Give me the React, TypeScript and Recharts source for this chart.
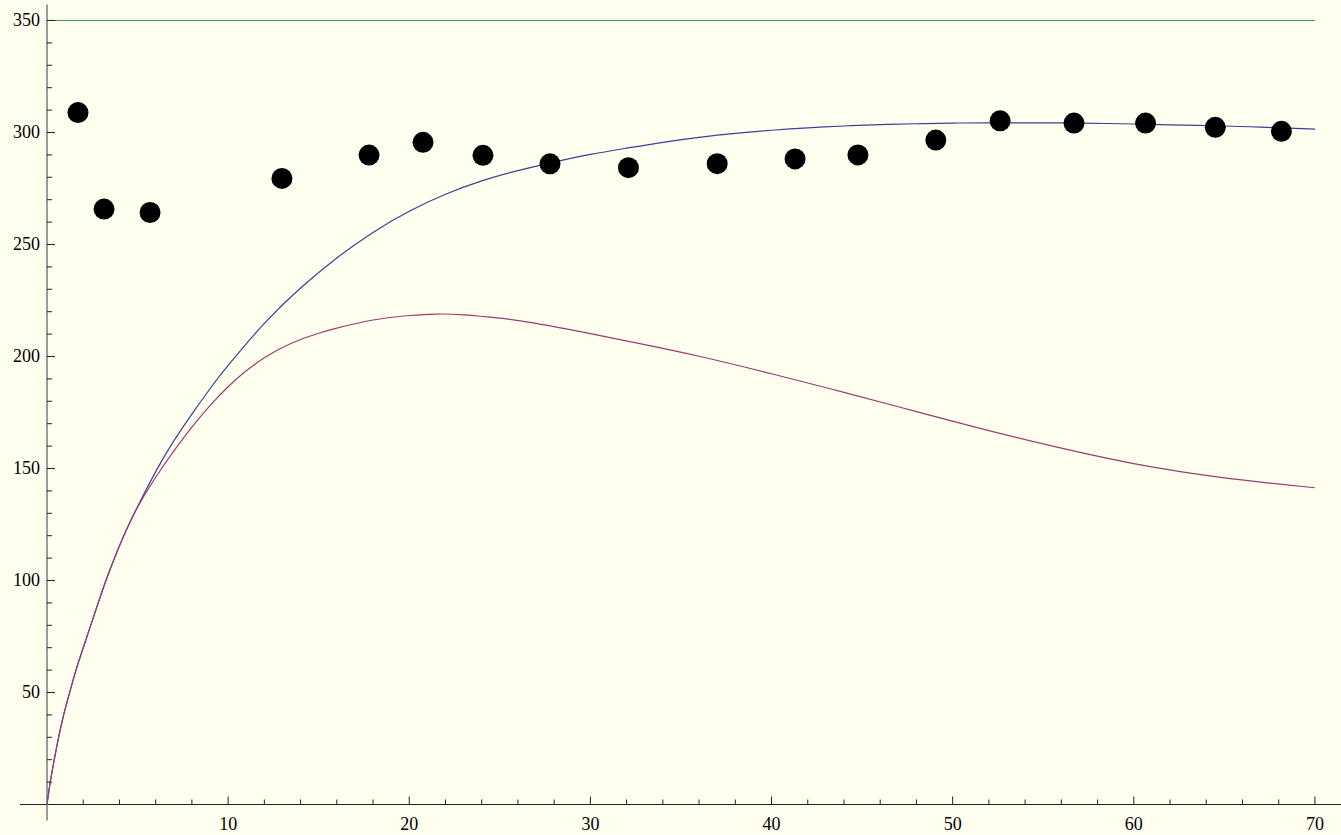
import { ComposedChart, Line, Scatter, XAxis, YAxis, ReferenceLine } from 'recharts';

// measured points (dots)
const obsTime = [1.71, 3.15, 5.69, 12.97, 17.78, 20.76, 24.07, 27.77, 32.1, 37.0, 41.3, 44.77, 49.07, 52.62, 56.7, 60.65, 64.5, 68.15];
const obsLevel = [308.9, 265.8, 264.3, 279.5, 289.9, 295.6, 289.8, 286.0, 284.3, 286.1, 288.2, 290.0, 296.6, 305.2, 304.2, 304.2, 302.3, 300.5];

// upper (blue) curve
const blueTime = [0, 0.18, 0.4, 0.64, 0.92, 1.25, 1.6, 2.0, 2.6, 3.22, 3.95, 4.82, 6, 7, 8, 9, 10, 12, 14, 16, 18, 20, 22, 24, 26, 28, 30, 32, 34, 36, 38, 40, 42, 44, 46, 48, 50, 52, 55, 57, 60, 62, 65, 67, 70];
const blueLevel = [0, 10, 20, 30, 40, 50, 60, 70, 84.5, 99.2, 114.5, 130, 148.6, 162.3, 174.3, 185.6, 196.0, 214.8, 230.6, 244.0, 255.4, 264.8, 272.4, 278.4, 283.0, 286.8, 290.2, 293.0, 295.6, 297.8, 299.6, 301.0, 302.1, 302.9, 303.5, 303.9, 304.2, 304.3, 304.3, 304.2, 303.8, 303.4, 302.9, 302.4, 301.5];

// lower (purple) curve
const purpleTime = [0, 0.18, 0.4, 0.64, 0.92, 1.25, 1.6, 2.0, 2.6, 3.22, 3.95, 4.82, 6, 7, 8, 9, 10, 11, 12, 13, 14, 15, 16, 18, 20, 21.5, 23, 25, 27, 30, 33, 36, 40, 44, 48, 52, 56, 60, 64, 67, 70];
const purpleLevel = [0, 10, 20, 30, 40, 50, 60, 70, 84.5, 99.2, 114.5, 130, 146.1, 157.8, 168.5, 178.1, 186.5, 193.6, 199.4, 204.0, 207.6, 210.4, 212.7, 216.3, 218.3, 218.95, 218.6, 217.1, 214.8, 210.2, 205.3, 200.1, 192.3, 184.0, 175.4, 166.9, 159.1, 152.2, 146.9, 143.9, 141.4];

// horizontal green level
const limitLevel = 350;
const limitSpan = [0, 70];

const xMinorTicks = [2, 4, 6, 8, 12, 14, 16, 18, 22, 24, 26, 28, 32, 34, 36, 38, 42, 44, 46, 48, 52, 54, 56, 58, 62, 64, 66, 68];
const xMajorTicks = [10, 20, 30, 40, 50, 60, 70];
const yMinorTicks = [10, 20, 30, 40, 60, 70, 80, 90, 110, 120, 130, 140, 160, 170, 180, 190, 210, 220, 230, 240, 260, 270, 280, 290, 310, 320, 330, 340];
const yMajorTicks = [50, 100, 150, 200, 250, 300, 350];

const obsData = obsTime.map((x, i) => ({ x, y: obsLevel[i] }));
const blueData = blueTime.map((x, i) => ({ x, y: blueLevel[i] }));
const purpleData = purpleTime.map((x, i) => ({ x, y: purpleLevel[i] }));
const limitData = limitSpan.map((x) => ({ x, y: limitLevel }));

const xTicks = [...xMinorTicks, ...xMajorTicks].sort((a, b) => a - b);
const yTicks = [...yMinorTicks, ...yMajorTicks].sort((a, b) => a - b);

const FONT = '"Liberation Serif", "Times New Roman", serif';
const BG = '#FFFFF0';
const AXIS = '#222';

function XTick({ x, y, payload }: any) {
  const major = xMajorTicks.includes(payload.value);
  return (
    <g>
      <line x1={x} y1={y} x2={x} y2={y - (major ? 8 : 5)} stroke={AXIS} strokeWidth={1} />
      {major && (
        <text x={x} y={y + 25} textAnchor="middle" fontFamily={FONT} fontSize={18} fill="#000">
          {payload.value}
        </text>
      )}
    </g>
  );
}

function YTick({ x, y, payload }: any) {
  const major = yMajorTicks.includes(payload.value);
  return (
    <g>
      <line x1={x} y1={y} x2={x + (major ? 8 : 5)} y2={y} stroke={AXIS} strokeWidth={1} />
      {major && (
        <text x={x - 7} y={y + 6} textAnchor="end" fontFamily={FONT} fontSize={18} fill="#000">
          {payload.value}
        </text>
      )}
    </g>
  );
}

export default function App() {
  return (
    <div style={{ position: 'absolute', left: 0, top: 0, width: 1341, height: 835, background: BG }}>
      <ComposedChart width={1341} height={835} margin={{ top: 4.5, right: 0, bottom: 0, left: 0 }}>
        <XAxis
          type="number"
          dataKey="x"
          domain={[0, 71.44]}
          allowDataOverflow
          ticks={xTicks}
          interval={0}
          height={30.5}
          axisLine={false}
          tickLine={false}
          tickSize={0}
          tickMargin={0}
          tick={<XTick />}
        />
        <YAxis
          type="number"
          dataKey="y"
          domain={[0, 357.14]}
          allowDataOverflow
          ticks={yTicks}
          interval={0}
          width={47}
          axisLine={false}
          tickLine={false}
          tickSize={0}
          tickMargin={0}
          tick={<YTick />}
        />
        <ReferenceLine segment={[{ x: -1.49, y: 0 }, { x: 71.44, y: 0 }]} stroke={AXIS} strokeWidth={1} ifOverflow="visible" />
        <ReferenceLine segment={[{ x: 0, y: -7.14 }, { x: 0, y: 357.14 }]} stroke="#666" strokeWidth={1.3} ifOverflow="visible" />
        <Line data={blueData} dataKey="y" type="natural" stroke="#3F3D99" strokeWidth={1.2} dot={false} isAnimationActive={false} />
        <Line data={purpleData} dataKey="y" type="natural" stroke="#993D71" strokeWidth={1.2} dot={false} isAnimationActive={false} />
        <Line data={limitData} dataKey="y" type="linear" stroke="#3A9A4A" strokeWidth={1.2} dot={false} isAnimationActive={false} />
        <Scatter
          data={obsData}
          dataKey="y"
          fill="#000"
          isAnimationActive={false}
          shape={(p: any) => <circle cx={p.cx} cy={p.cy} r={10.5} fill="#000" />}
        />
      </ComposedChart>
    </div>
  );
}
